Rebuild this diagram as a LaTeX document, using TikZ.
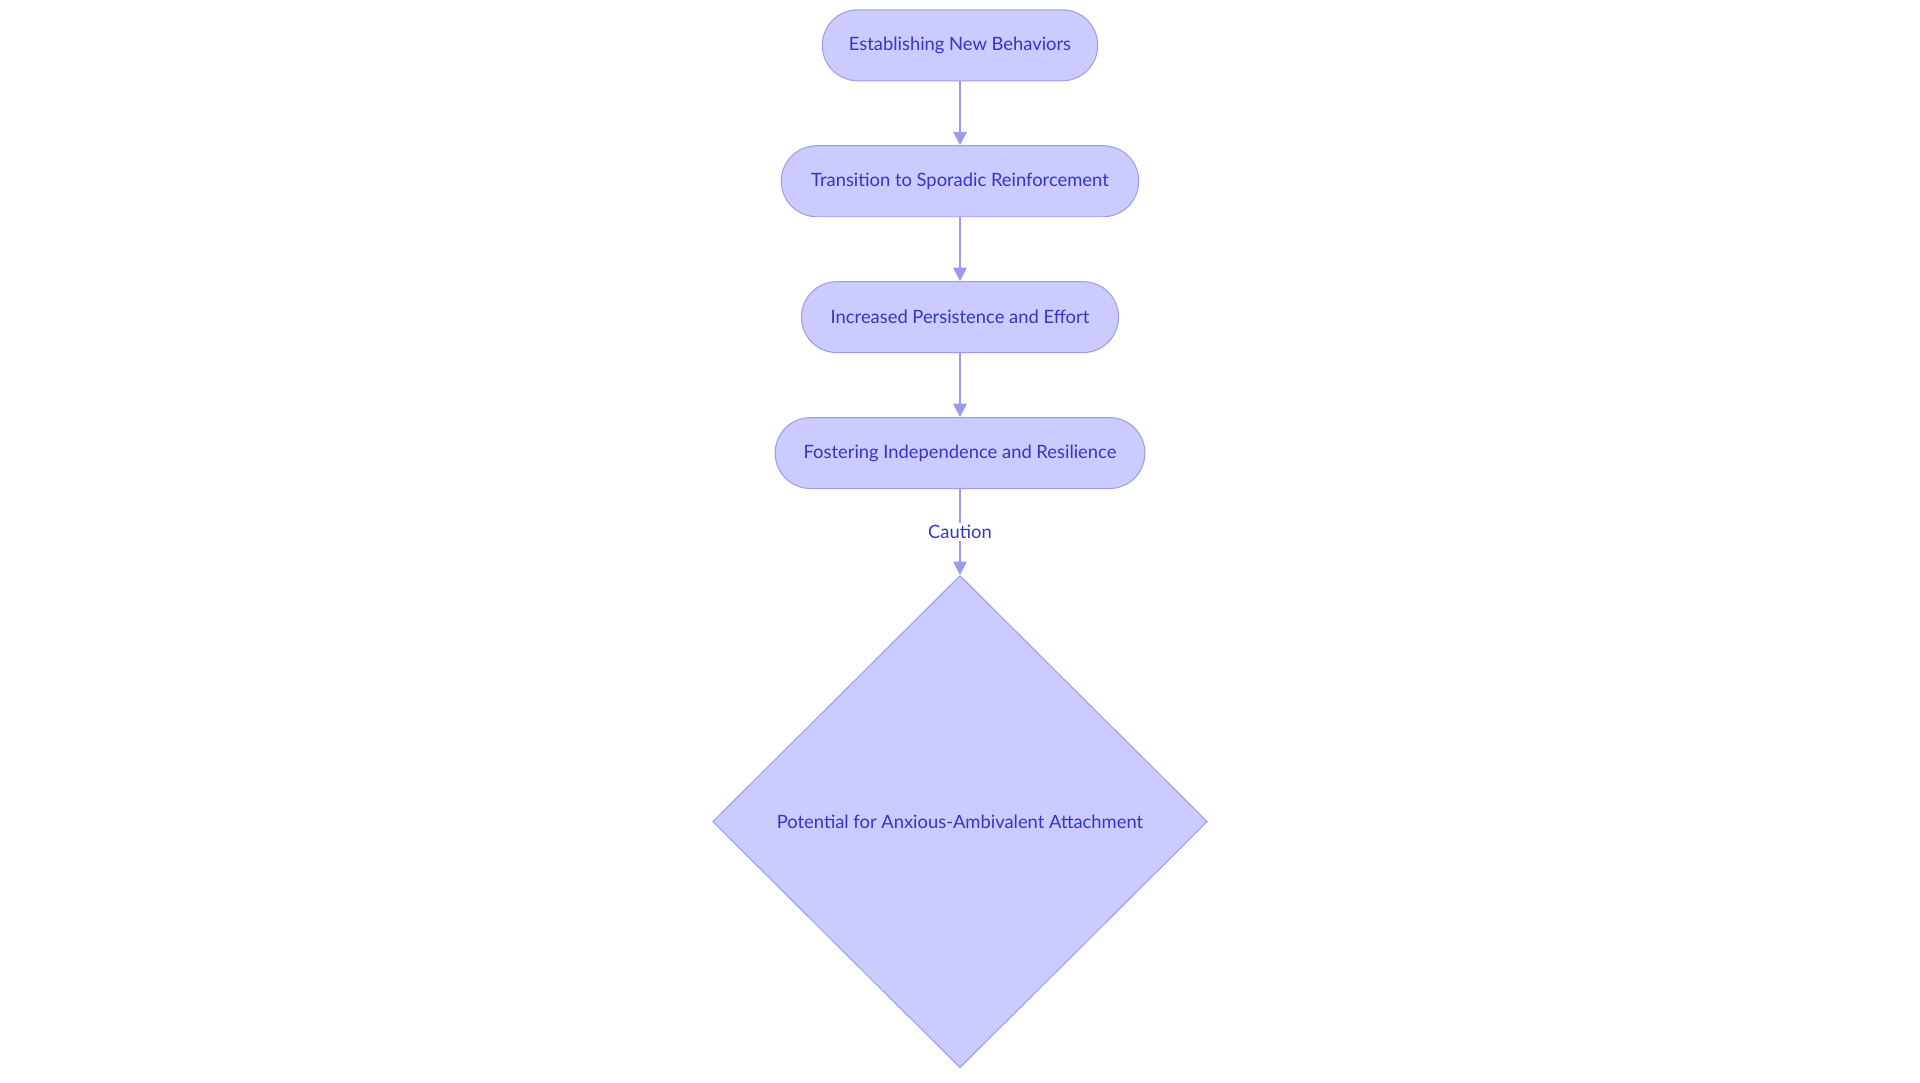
\documentclass[tikz,border=0pt]{standalone}
\usepackage{fontspec}
\setmainfont{Lato}
\usetikzlibrary{shapes.geometric,arrows.meta}
\definecolor{nfill}{HTML}{CBCBFF}
\definecolor{nline}{HTML}{9A9AEE}
\definecolor{ntext}{HTML}{3535C8}
\tikzset{
  pill/.style={draw=nline,fill=nfill,line width=0.8pt,rounded corners=29pt,minimum height=58pt,text=ntext,font=\fontsize{15}{18}\selectfont,inner sep=0pt},
  dia/.style={diamond,draw=nline,fill=nfill,line width=0.8pt,minimum width=404pt,minimum height=402pt,inner sep=0pt,text=ntext,font=\fontsize{15}{18}\selectfont},
  conn/.style={draw=nline,line width=1.8pt,-{Triangle[length=11pt,width=11pt]}}
}
\begin{document}
\begin{tikzpicture}[x=1pt,y=-1pt]
\useasboundingbox (0,0) rectangle (1568,884);
\node[pill,minimum width=225pt] (a) at (784,37) {Establishing New Behaviors};
\node[pill,minimum width=292pt] (b) at (784,148) {Transition to Sporadic Reinforcement};
\node[pill,minimum width=259pt] (c) at (784,259) {Increased Persistence and Effort};
\node[pill,minimum width=302pt] (d) at (784,370) {Fostering Independence and Resilience};
\node[dia] (e) at (784,671) {Potential for Anxious-Ambivalent Attachment};
\draw[conn] (a) -- (b);
\draw[conn] (b) -- (c);
\draw[conn] (c) -- (d);
\draw[conn] (d) -- node[fill=white,text=ntext,font=\fontsize{15}{18}\selectfont,inner sep=2pt] (lab) {Caution} (e);
\end{tikzpicture}
\end{document}
